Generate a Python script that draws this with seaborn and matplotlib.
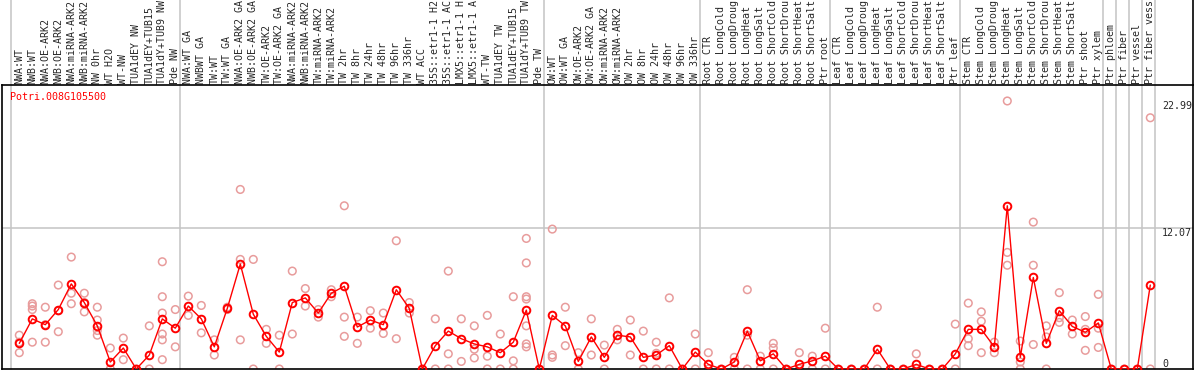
import numpy as np
import pandas as pd
import seaborn as sns
from matplotlib import pyplot as plt

gene = "Potri.008G105500"

labels = [
    "NWA:WT", "NWB:WT", "NWA:OE-ARK2", "NWB:OE-ARK2", "NWA:miRNA-ARK2", "NWB:miRNA-ARK2",
    "NW 0hr", "WT H2O", "WT-NW", "TUA1dEY NW", "TUA1dEY+TUB15", "TUA1dY+TUB9 NW", "Pde NW",
    "NWA:WT GA", "NWBWT GA", "TW:WT", "TW:WT GA", "NWA:OE-ARK2 GA", "NWB:OE-ARK2 GA",
    "TW:OE-ARK2", "TW:OE-ARK2 GA", "NWA:miRNA-ARK2", "NWB:miRNA-ARK2", "TW:miRNA-ARK2",
    "TW:miRNA-ARK2", "TW 2hr", "TW 8hr", "TW 24hr", "TW 48hr", "TW 96hr", "TW 336hr",
    "WT ACC", "35S::etr1-1 H2", "35S::etr1-1 AC", "LMX5::etr1-1 H", "LMX5::etr1-1 A",
    "WT-TW", "TUA1dEY TW", "TUA1dEY+TUB15", "TUA1dY+TUB9 TW", "Pde TW",
    "OW:WT", "OW:WT GA", "OW:OE-ARK2", "OW:OE-ARK2 GA", "OW:miRNA-ARK2", "OW:miRNA-ARK2",
    "OW 2hr", "OW 8hr", "OW 24hr", "OW 48hr", "OW 96hr", "OW 336hr",
    "Root CTR", "Root LongCold", "Root LongDroug", "Root LongHeat", "Root LongSalt",
    "Root ShortCold", "Root ShortDrou", "Root ShortHeat", "Root ShortSalt", "Ptr root",
    "Leaf CTR", "Leaf LongCold", "Leaf LongDroug", "Leaf LongHeat", "Leaf LongSalt",
    "Leaf ShortCold", "Leaf ShortDrou", "Leaf ShortHeat", "Leaf ShortSalt", "Ptr leaf",
    "Stem CTR", "Stem LongCold", "Stem LongDroug", "Stem LongHeat", "Stem LongSalt",
    "Stem ShortCold", "Stem ShortDrou", "Stem ShortHeat", "Stem ShortSalt", "Ptr shoot",
    "Ptr xylem", "Ptr phloem", "Ptr fiber", "Ptr vessel", "Ptr fiber vess",
]

means = [
    2.2, 4.3, 3.8, 5.1, 7.3, 5.7, 3.7, 0.6, 1.8, 0.0, 1.2, 4.3, 3.5,
    5.4, 4.3, 1.9, 5.2, 9.0, 4.7, 2.8, 1.45, 5.7, 6.1, 4.8, 6.5, 7.1, 3.6, 4.2,
    3.8, 6.8, 5.2, 0.0, 2.0, 3.25, 2.6, 2.15, 1.9, 1.4, 2.3, 5.05, 0.0,
    4.6, 3.7, 0.65, 2.75, 1.0, 2.9, 2.75, 1.0, 1.2, 2.0, 0.0, 1.45,
    0.4, 0.0, 0.6, 3.25, 0.7, 1.3, 0.0, 0.4, 0.7, 1.1,
    0.0, 0.0, 0.0, 1.7, 0.0, 0.0, 0.4, 0.0, 0.0, 1.3,
    3.4, 3.4, 1.9, 14.0, 1.0, 7.85, 2.2, 5.0, 3.65, 3.15, 3.95,
    0.0, 0.0, 0.0, 7.2,
]

# individual replicates per sample
reps = [
    [2.9, 1.4, 2.3], [5.6, 5.4, 5.1, 2.3], [5.3, 2.3, 3.8], [7.2, 3.2, 5.0],
    [9.6, 6.5, 5.6], [6.5, 4.9, 5.7], [5.3, 4.2, 3.3, 2.9], [1.8, 0.0], [2.65, 0.8],
    [0.0], [3.7, 0.0], [9.2, 6.2, 4.8, 3.0, 2.5, 0.8], [5.1, 1.9],
    [6.25, 4.6], [5.45, 3.1], [2.5, 1.2], [5.3, 5.1], [15.4, 9.4, 2.5], [9.4, 0.0],
    [3.4, 2.2], [2.9, 0.0], [8.4, 3.0], [6.9, 5.4], [5.1, 4.45], [6.8, 6.2],
    [14.0, 4.45, 2.8], [4.45, 2.2], [5.0, 3.5], [4.8, 3.05], [11.0, 2.6], [5.7, 4.8],
    [0.0], [4.3, 0.0], [8.4, 1.3, 0.0], [4.3, 0.65], [3.7, 1.7, 0.95], [4.6, 1.1, 0.0],
    [3.0, 0.0], [6.2, 0.7, 0.0], [11.2, 9.1, 6.2, 6.0, 3.7, 2.15, 1.9], [0.0],
    [12.0, 1.2, 1.0], [5.3, 2.0], [1.4, 0.0], [4.3, 1.2], [2.05, 0.0], [3.4, 2.5],
    [4.2, 1.2], [3.25, 0.0], [2.3, 1.35, 0.0], [6.1, 0.0], [0.0], [3.0, 0.0],
    [1.4, 0.0], [0.0], [1.0, 0.0], [6.8, 2.9, 0.0], [1.1, 0.0], [2.2, 1.8, 0.0],
    [0.0], [1.4, 0.0], [1.1, 0.0], [3.5, 0.0],
    [0.0], [0.0], [0.0], [5.3, 0.0], [0.0], [0.0], [1.3, 0.0], [0.0], [0.0], [3.85, 0.0],
    [5.65, 2.6, 2.0], [4.9, 4.1, 1.4], [2.3, 1.4], [22.99, 10.0, 8.9], [2.4, 0.6, 0.0],
    [12.6, 8.9, 2.1], [3.7, 2.75, 0.0], [6.55, 4.4, 4.0], [4.2, 3.0], [4.5, 3.4, 1.6],
    [6.4, 3.5, 1.85],
    [0.0], [0.0], [0.0], [21.55, 0.0],
]

group_starts = [0, 13, 41, 53, 63, 73, 84, 85, 86, 87, 88]
ytick_vals = [0, 12.07, 22.99]

sns.set_style("white")
plt.rcParams["font.family"] = ["DejaVu Sans Mono"]

W, H = 1194, 370
fig = plt.figure(figsize=(W / 100, H / 100), dpi=100)
ax = fig.add_axes([1.5 / W, 1 / H, 1191 / W, 284 / H])

x = np.arange(len(labels))
mean_df = pd.DataFrame({"idx": x, "value": means})
rep_df = pd.DataFrame(
    [(i, v) for i, r in enumerate(reps) for v in r], columns=["idx", "value"]
)

grey = "#c4c4c4"
for b in group_starts:
    ax.axvline(b - 0.64, ymin=0, ymax=1.31, color=grey, lw=1.1, clip_on=False, zorder=0)
ax.axhline(12.07, color=grey, lw=1.1, zorder=0)

sns.scatterplot(data=rep_df, x="idx", y="value", ax=ax, s=30,
                facecolor="none", edgecolor="#e89c9c", linewidth=1.1, zorder=2)
sns.lineplot(data=mean_df, x="idx", y="value", ax=ax, color="red", lw=1,
             marker="o", ms=5.5, mfc="none", mec="red", mew=1.4, zorder=3)

ax.set_xlim((1.5 - 19.3) / 13, (1192.5 - 19.3) / 13)
ax.set_ylim(0, 24.36)
ax.set_xlabel("")
ax.set_ylabel("")

# sample names along the top
ax.xaxis.tick_top()
ax.set_xticks(x)
ax.set_xticklabels(labels, rotation=90, fontsize=7.2)
ax.tick_params(axis="x", length=0, pad=1)

# value marks in the right strip
ax.yaxis.tick_right()
ax.set_yticks(ytick_vals)
ax.set_yticklabels(["0", "12.07", "22.99"], fontsize=7.2)
ax.tick_params(axis="y", length=0, pad=-22)
for lbl, va in zip(ax.get_yticklabels(), ["bottom", "top", "top"]):
    lbl.set_va(va)

for s in ax.spines.values():
    s.set_color("black")
    s.set_linewidth(1.2)
ax.axvline(ax.get_xlim()[1], ymin=1, ymax=1.31, color="black", lw=1.2, clip_on=False)

ax.text(8.5 / 1191, (369 - 97) / 284, gene, transform=ax.transAxes,
        color="red", fontsize=7.2, va="center", ha="left")

fig.savefig("out.png", dpi=100)
